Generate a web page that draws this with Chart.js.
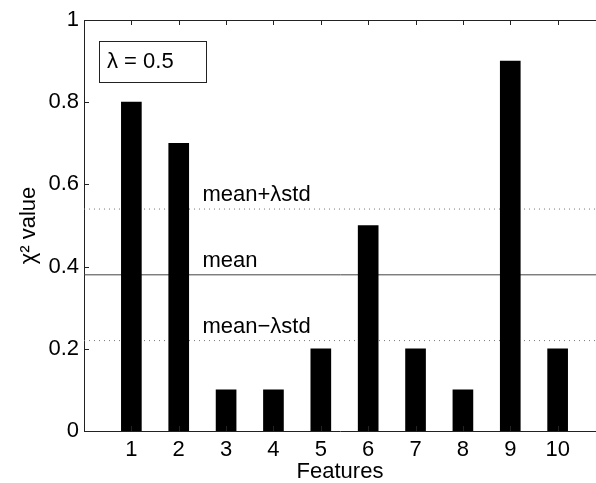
<!DOCTYPE html>
<html>
<head>
<meta charset="utf-8">
<script src="https://cdn.jsdelivr.net/npm/chart.js@4/dist/chart.umd.min.js"></script>
<style>
  html, body { margin: 0; padding: 0; background: #fff; overflow: hidden; }
  #wrap { width: 596px; height: 483px; }
</style>
</head>
<body>
<div id="wrap"><canvas id="chart" width="596" height="483"></canvas></div>
<script>
// data
const features = [1, 2, 3, 4, 5, 6, 7, 8, 9, 10];
const chiValues = [0.8, 0.7, 0.1, 0.1, 0.2, 0.5, 0.2, 0.1, 0.9, 0.2];
const meanValue = 0.38;
const upperValue = 0.54;   // mean + lambda*std
const lowerValue = 0.22;   // mean - lambda*std
const yTicks = [0, 0.2, 0.4, 0.6, 0.8, 1];
const lambdaLabel = '\u03bb = 0.5';
const lineLabels = ['mean+\u03bbstd', 'mean', 'mean\u2212\u03bbstd'];

const FONT = '"Liberation Sans", Arial, Helvetica, sans-serif';
const FS = 22;
const xMin = 0, xMax = 10.81;

const hline = v => [{ x: xMin, y: v }, { x: 11, y: v }];

// inner ticks, top axis line, labels and lambda box
const decorations = {
  id: 'decorations',
  afterDatasetsDraw(chart) {
    const { ctx, chartArea: a, scales: { x, y } } = chart;
    ctx.save();
    ctx.strokeStyle = '#222';
    ctx.lineWidth = 1;
    ctx.beginPath();
    ctx.moveTo(a.left, a.top + 0.5);
    ctx.lineTo(a.right, a.top + 0.5);
    features.forEach(f => {
      const px = Math.round(x.getPixelForValue(f)) + 0.5;
      ctx.moveTo(px, a.top); ctx.lineTo(px, a.top + 5);
      ctx.moveTo(px, a.bottom); ctx.lineTo(px, a.bottom - 5);
    });
    yTicks.forEach(t => {
      const py = Math.round(y.getPixelForValue(t)) + 0.5;
      ctx.moveTo(a.left, py); ctx.lineTo(a.left + 5, py);
    });
    ctx.stroke();

    // line labels
    ctx.fillStyle = '#000';
    ctx.font = FS + 'px ' + FONT;
    ctx.textAlign = 'left';
    ctx.textBaseline = 'alphabetic';
    const lx = x.getPixelForValue(2.5);
    [upperValue, meanValue, lowerValue].forEach((v, i) => {
      ctx.fillText(lineLabels[i], lx, y.getPixelForValue(v) - 8);
    });

    // lambda box
    ctx.strokeRect(a.left + 15.5, a.top + 21.5, 107, 41);
    ctx.textBaseline = 'middle';
    ctx.fillText(lambdaLabel, a.left + 23, a.top + 42);
    ctx.restore();
  }
};

new Chart(document.getElementById('chart'), {
  type: 'bar',
  data: {
    datasets: [
      { type: 'bar', data: features.map((f, i) => ({ x: f, y: chiValues[i] })), backgroundColor: '#000', borderWidth: 0, barThickness: 20, order: 0 },
      { type: 'line', data: hline(meanValue), borderColor: '#444', borderWidth: 1, pointRadius: 0, order: 1 },
      { type: 'line', data: hline(upperValue), borderColor: '#777', borderWidth: 1, borderDash: [1, 4], pointRadius: 0, order: 1 },
      { type: 'line', data: hline(lowerValue), borderColor: '#777', borderWidth: 1, borderDash: [1, 4], pointRadius: 0, order: 1 },
    ]
  },
  options: {
    responsive: false,
    animation: false,
    layout: { padding: { top: 20, right: 0, left: 0, bottom: 0 } },
    plugins: { legend: { display: false }, tooltip: { enabled: false } },
    scales: {
      x: {
        type: 'linear', min: xMin, max: xMax, offset: false,
        afterBuildTicks: s => { s.ticks = features.map(v => ({ value: v })); },
        afterFit: s => { s.height = 52; s.paddingLeft = 0; s.paddingRight = 0; },
        grid: { display: false, drawTicks: false, offset: false },
        border: { display: true, color: '#222', width: 1 },
        ticks: { color: '#000', padding: 6, maxRotation: 0, autoSkip: false, font: { family: FONT, size: FS } },
        title: { display: true, text: 'Features', color: '#000', padding: 0, font: { family: FONT, size: FS, lineHeight: 1 } }
      },
      y: {
        min: 0, max: 1,
        afterBuildTicks: s => { s.ticks = yTicks.map(v => ({ value: v })); },
        afterFit: s => { s.width = 84; s.paddingTop = 0; s.paddingBottom = 0; },
        grid: { display: false, drawTicks: false },
        border: { display: true, color: '#222', width: 1 },
        ticks: { color: '#000', padding: 5, font: { family: FONT, size: FS }, callback: v => String(+v.toFixed(1)) },
        title: { display: true, text: '\u03c7\u00b2 value', color: '#000', padding: { top: 16, bottom: 0 }, font: { family: FONT, size: FS } }
      }
    }
  },
  plugins: [decorations]
});
</script>
</body>
</html>
